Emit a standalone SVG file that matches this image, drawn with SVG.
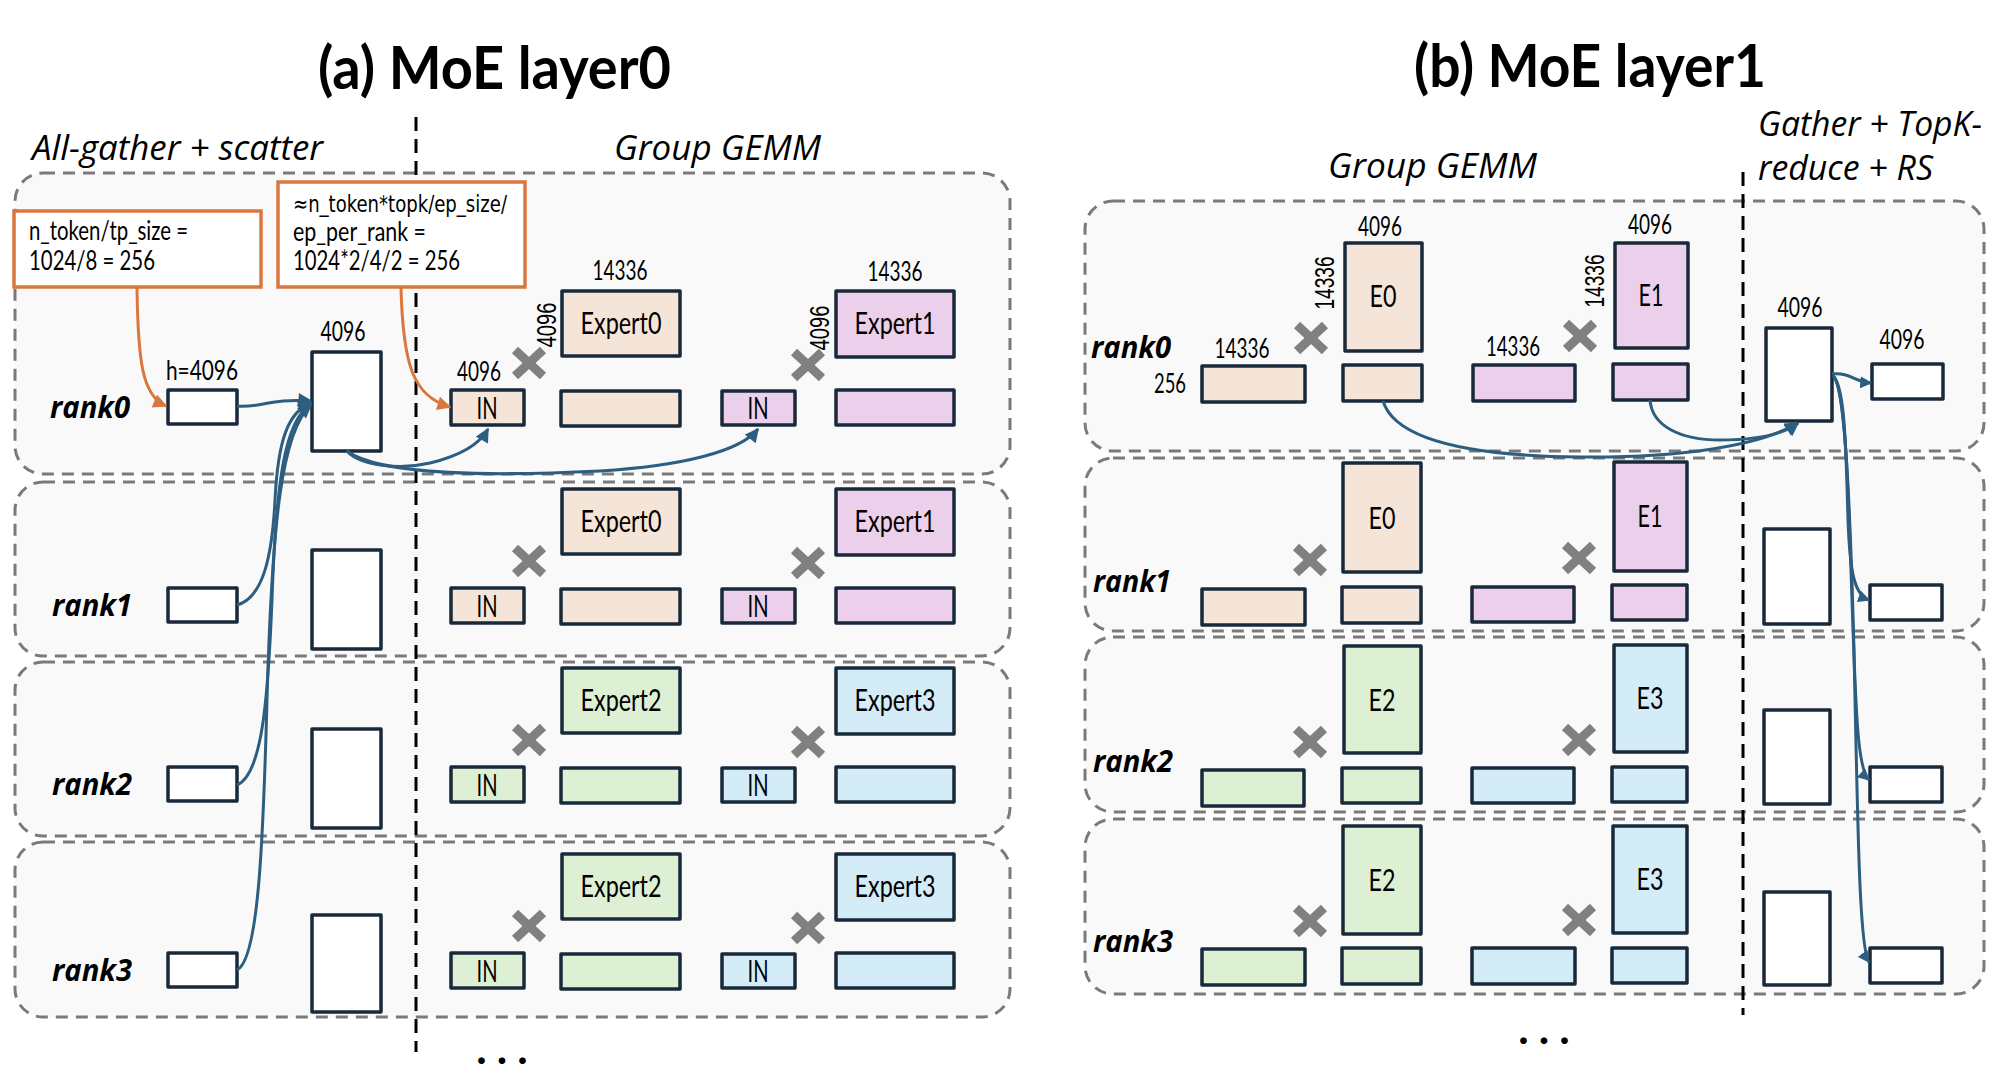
<svg xmlns="http://www.w3.org/2000/svg" width="1992" height="1092" viewBox="0 0 1992 1092">
<defs>
<style>
.panel{fill:#F9F9F9;stroke:#7A7A7A;stroke-width:3;stroke-dasharray:12 8}
.box{stroke:#18293A;stroke-width:3.5;stroke-linejoin:round}
.w{fill:#FFFFFF}.pe{fill:#F5E5D8}.pu{fill:#ECD0EB}.gr{fill:#DEF0D4}.bl{fill:#D3ECF8}
.xm{stroke:#808080;stroke-width:9}
.num{font-family:Lato,'Liberation Sans',sans-serif;font-size:26px;fill:#000}
.rot{font-family:'Liberation Sans',Arial,sans-serif;font-size:28px;fill:#000}
.lbl{font-family:Lato,'Liberation Sans',sans-serif;font-size:31px;fill:#000}
.note{font-family:Lato,'Liberation Sans',sans-serif;font-size:27px;fill:#000}
.note1{font-family:'DejaVu Sans Condensed','DejaVu Sans',sans-serif;font-size:23px;fill:#000}
.rank{font-family:'Open Sans','Liberation Sans',sans-serif;font-weight:700;font-style:italic;font-size:30px;fill:#000}
.sec{font-family:'Open Sans','Liberation Sans',sans-serif;font-style:italic;font-size:34px;fill:#000}
.title{font-family:Lato,'Liberation Sans',sans-serif;font-weight:700;font-size:60px;fill:#000}
.vdash{stroke:#000;stroke-width:3;stroke-dasharray:14 8;fill:none}
.conn{fill:none;stroke:#2D5E80;stroke-width:3}
.oconn{fill:none;stroke:#D9773F;stroke-width:3}
.obox{fill:#FFFFFF;stroke:#D9773F;stroke-width:3.5}
.dots{font-family:Lato,'Liberation Sans',sans-serif;font-weight:700;font-size:44px;letter-spacing:10px;fill:#000}
</style>
<marker id="ab" viewBox="0 0 10 10" refX="9" refY="5" markerWidth="15" markerHeight="14" markerUnits="userSpaceOnUse" orient="auto"><path d="M0,0 L10,5 L0,10 z" fill="#2D5E80"/></marker>
<marker id="abs" viewBox="0 0 10 10" refX="9" refY="5" markerWidth="12" markerHeight="12" markerUnits="userSpaceOnUse" orient="auto"><path d="M0,0 L10,5 L0,10 z" fill="#2D5E80"/></marker>
<marker id="ao" viewBox="0 0 10 10" refX="9" refY="5" markerWidth="15" markerHeight="14" markerUnits="userSpaceOnUse" orient="auto"><path d="M0,0 L10,5 L0,10 z" fill="#D9773F"/></marker>
<g id="xmark"><line class="xm" x1="-14" y1="-13" x2="14" y2="13"/><line class="xm" x1="14" y1="-13" x2="-14" y2="13"/></g>
</defs>

<g id="titles">
<text class="title" x="318" y="89" textLength="353" lengthAdjust="spacingAndGlyphs">(a) MoE layer0</text>
<text class="title" x="1414" y="87" textLength="352" lengthAdjust="spacingAndGlyphs">(b) MoE layer1</text>
<text class="sec" x="32" y="160" textLength="291" lengthAdjust="spacingAndGlyphs">All-gather + scatter</text>
<text class="sec" x="614" y="160" textLength="207" lengthAdjust="spacingAndGlyphs">Group GEMM</text>
<text class="sec" x="1328" y="178" textLength="209" lengthAdjust="spacingAndGlyphs">Group GEMM</text>
<text class="sec" x="1758" y="136" textLength="224" lengthAdjust="spacingAndGlyphs">Gather + TopK-</text>
<text class="sec" x="1758" y="180" textLength="175" lengthAdjust="spacingAndGlyphs">reduce + RS</text>
</g>

<g id="panels">
<rect class="panel" x="15" y="173" width="995" height="301" rx="28"/>
<rect class="panel" x="15" y="482" width="995" height="174" rx="28"/>
<rect class="panel" x="15" y="662" width="995" height="174" rx="28"/>
<rect class="panel" x="15" y="842" width="995" height="175" rx="28"/>
<rect class="panel" x="1085" y="201" width="899" height="250" rx="28"/>
<rect class="panel" x="1085" y="458" width="899" height="173" rx="28"/>
<rect class="panel" x="1085" y="637" width="899" height="175" rx="28"/>
<rect class="panel" x="1085" y="819" width="899" height="175" rx="28"/>
</g>

<g id="dividers">
<line class="vdash" x1="416" y1="117" x2="416" y2="1052"/>
<line class="vdash" x1="1743" y1="172" x2="1743" y2="1015"/>
</g>

<g id="note1"><rect class="obox" x="14" y="211" width="247" height="76"/>
<text class="note" x="29" y="240" textLength="159" lengthAdjust="spacingAndGlyphs">n_token/tp_size =</text>
<text class="note" x="29" y="270" textLength="126" lengthAdjust="spacingAndGlyphs">1024/8 = 256</text></g>
<g id="note2"><rect class="obox" x="278" y="182" width="247" height="105"/>
<text class="note1" x="293" y="212" textLength="214" lengthAdjust="spacingAndGlyphs">≈n_token*topk/ep_size/</text>
<text class="note" x="293" y="241" textLength="133" lengthAdjust="spacingAndGlyphs">ep_per_rank =</text>
<text class="note" x="293" y="270" textLength="167" lengthAdjust="spacingAndGlyphs">1024*2/4/2 = 256</text></g>

<g id="a-rank0">
<text class="rank" x="50" y="418" textLength="80" lengthAdjust="spacingAndGlyphs">rank0</text>
<g id="a0-in"><rect class="box w" x="168" y="390" width="69" height="34"/><text class="num" x="202" y="380" text-anchor="middle" textLength="72" lengthAdjust="spacingAndGlyphs">h=4096</text></g>
<g id="a0-gather"><rect class="box w" x="312" y="352" width="69" height="99"/><text class="num" x="343" y="341" text-anchor="middle" textLength="45" lengthAdjust="spacingAndGlyphs">4096</text></g>
<g id="a0-in1"><rect class="box pe" x="451" y="390" width="73" height="35"/><text class="lbl" x="487" y="419" text-anchor="middle" textLength="21" lengthAdjust="spacingAndGlyphs">IN</text><text class="num" x="479" y="381" text-anchor="middle" textLength="44" lengthAdjust="spacingAndGlyphs">4096</text></g>
<use href="#xmark" x="529" y="363"/>
<g id="a0-e0"><rect class="box pe" x="562" y="291" width="118" height="65"/><text class="lbl" x="621" y="334" text-anchor="middle" textLength="81" lengthAdjust="spacingAndGlyphs">Expert0</text><text class="num" x="620" y="280" text-anchor="middle" textLength="55" lengthAdjust="spacingAndGlyphs">14336</text><text class="rot" transform="translate(556,325) rotate(-90)" text-anchor="middle" textLength="45" lengthAdjust="spacingAndGlyphs">4096</text></g>
<g id="a0-o0"><rect class="box pe" x="561" y="391" width="119" height="35"/></g>
<g id="a0-in2"><rect class="box pu" x="722" y="391" width="73" height="34"/><text class="lbl" x="758" y="419" text-anchor="middle" textLength="21" lengthAdjust="spacingAndGlyphs">IN</text></g>
<use href="#xmark" x="808" y="365"/>
<g id="a0-e1"><rect class="box pu" x="836" y="291" width="118" height="66"/><text class="lbl" x="895" y="334" text-anchor="middle" textLength="81" lengthAdjust="spacingAndGlyphs">Expert1</text><text class="num" x="895" y="281" text-anchor="middle" textLength="55" lengthAdjust="spacingAndGlyphs">14336</text><text class="rot" transform="translate(829,328) rotate(-90)" text-anchor="middle" textLength="45" lengthAdjust="spacingAndGlyphs">4096</text></g>
<g id="a0-o1"><rect class="box pu" x="836" y="390" width="118" height="35"/></g>
</g>

<g id="a-rank1" transform="translate(0,198)">
<text class="rank" x="52" y="418" textLength="80" lengthAdjust="spacingAndGlyphs">rank1</text>
<g id="a1-in"><rect class="box w" x="168" y="390" width="69" height="34"/></g>
<g id="a1-gather"><rect class="box w" x="312" y="352" width="69" height="99"/></g>
<g id="a1-in1"><rect class="box pe" x="451" y="390" width="73" height="35"/><text class="lbl" x="487" y="419" text-anchor="middle" textLength="21" lengthAdjust="spacingAndGlyphs">IN</text></g>
<use href="#xmark" x="529" y="363"/>
<g id="a1-e0"><rect class="box pe" x="562" y="291" width="118" height="65"/><text class="lbl" x="621" y="334" text-anchor="middle" textLength="81" lengthAdjust="spacingAndGlyphs">Expert0</text></g>
<g id="a1-o0"><rect class="box pe" x="561" y="391" width="119" height="35"/></g>
<g id="a1-in2"><rect class="box pu" x="722" y="391" width="73" height="34"/><text class="lbl" x="758" y="419" text-anchor="middle" textLength="21" lengthAdjust="spacingAndGlyphs">IN</text></g>
<use href="#xmark" x="808" y="365"/>
<g id="a1-e1"><rect class="box pu" x="836" y="291" width="118" height="66"/><text class="lbl" x="895" y="334" text-anchor="middle" textLength="81" lengthAdjust="spacingAndGlyphs">Expert1</text></g>
<g id="a1-o1"><rect class="box pu" x="836" y="390" width="118" height="35"/></g>
</g>

<g id="a-rank2" transform="translate(0,377)">
<text class="rank" x="52" y="418" textLength="80" lengthAdjust="spacingAndGlyphs">rank2</text>
<g id="a2-in"><rect class="box w" x="168" y="390" width="69" height="34"/></g>
<g id="a2-gather"><rect class="box w" x="312" y="352" width="69" height="99"/></g>
<g id="a2-in1"><rect class="box gr" x="451" y="390" width="73" height="35"/><text class="lbl" x="487" y="419" text-anchor="middle" textLength="21" lengthAdjust="spacingAndGlyphs">IN</text></g>
<use href="#xmark" x="529" y="363"/>
<g id="a2-e2"><rect class="box gr" x="562" y="291" width="118" height="65"/><text class="lbl" x="621" y="334" text-anchor="middle" textLength="81" lengthAdjust="spacingAndGlyphs">Expert2</text></g>
<g id="a2-o2"><rect class="box gr" x="561" y="391" width="119" height="35"/></g>
<g id="a2-in2"><rect class="box bl" x="722" y="391" width="73" height="34"/><text class="lbl" x="758" y="419" text-anchor="middle" textLength="21" lengthAdjust="spacingAndGlyphs">IN</text></g>
<use href="#xmark" x="808" y="365"/>
<g id="a2-e3"><rect class="box bl" x="836" y="291" width="118" height="66"/><text class="lbl" x="895" y="334" text-anchor="middle" textLength="81" lengthAdjust="spacingAndGlyphs">Expert3</text></g>
<g id="a2-o3"><rect class="box bl" x="836" y="390" width="118" height="35"/></g>
</g>

<g id="a-rank3" transform="translate(0,563)">
<text class="rank" x="52" y="418" textLength="80" lengthAdjust="spacingAndGlyphs">rank3</text>
<g id="a3-in"><rect class="box w" x="168" y="390" width="69" height="34"/></g>
<g id="a3-gather"><rect class="box w" x="312" y="352" width="69" height="97"/></g>
<g id="a3-in1"><rect class="box gr" x="451" y="390" width="73" height="35"/><text class="lbl" x="487" y="419" text-anchor="middle" textLength="21" lengthAdjust="spacingAndGlyphs">IN</text></g>
<use href="#xmark" x="529" y="363"/>
<g id="a3-e2"><rect class="box gr" x="562" y="291" width="118" height="65"/><text class="lbl" x="621" y="334" text-anchor="middle" textLength="81" lengthAdjust="spacingAndGlyphs">Expert2</text></g>
<g id="a3-o2"><rect class="box gr" x="561" y="391" width="119" height="35"/></g>
<g id="a3-in2"><rect class="box bl" x="722" y="391" width="73" height="34"/><text class="lbl" x="758" y="419" text-anchor="middle" textLength="21" lengthAdjust="spacingAndGlyphs">IN</text></g>
<use href="#xmark" x="808" y="365"/>
<g id="a3-e3"><rect class="box bl" x="836" y="291" width="118" height="66"/><text class="lbl" x="895" y="334" text-anchor="middle" textLength="81" lengthAdjust="spacingAndGlyphs">Expert3</text></g>
<g id="a3-o3"><rect class="box bl" x="836" y="390" width="118" height="35"/></g>
</g>

<g id="b-rank0">
<text class="rank" x="1091" y="358" textLength="80" lengthAdjust="spacingAndGlyphs">rank0</text>
<g id="b0-w0"><rect class="box pe" x="1202" y="366" width="103" height="36"/><text class="num" x="1242" y="358" text-anchor="middle" textLength="55" lengthAdjust="spacingAndGlyphs">14336</text><text class="num" x="1170" y="393" text-anchor="middle" textLength="32" lengthAdjust="spacingAndGlyphs">256</text></g>
<use href="#xmark" x="1311" y="338"/>
<g id="b0-e0"><rect class="box pe" x="1345" y="243" width="77" height="108"/><text class="lbl" x="1383" y="307" text-anchor="middle" textLength="27" lengthAdjust="spacingAndGlyphs">E0</text><text class="num" x="1380" y="236" text-anchor="middle" textLength="44" lengthAdjust="spacingAndGlyphs">4096</text><text class="rot" transform="translate(1334,283) rotate(-90)" text-anchor="middle" textLength="53" lengthAdjust="spacingAndGlyphs">14336</text></g>
<g id="b0-o0"><rect class="box pe" x="1343" y="365" width="79" height="36"/></g>
<g id="b0-w1"><rect class="box pu" x="1473" y="365" width="102" height="36"/><text class="num" x="1513" y="356" text-anchor="middle" textLength="54" lengthAdjust="spacingAndGlyphs">14336</text></g>
<use href="#xmark" x="1580" y="336"/>
<g id="b0-e1"><rect class="box pu" x="1615" y="243" width="73" height="105"/><text class="lbl" x="1651" y="306" text-anchor="middle" textLength="25" lengthAdjust="spacingAndGlyphs">E1</text><text class="num" x="1650" y="234" text-anchor="middle" textLength="44" lengthAdjust="spacingAndGlyphs">4096</text><text class="rot" transform="translate(1604,281) rotate(-90)" text-anchor="middle" textLength="53" lengthAdjust="spacingAndGlyphs">14336</text></g>
<g id="b0-o1"><rect class="box pu" x="1613" y="364" width="75" height="36"/></g>
<g id="b0-gather"><rect class="box w" x="1766" y="328" width="66" height="93"/><text class="num" x="1800" y="317" text-anchor="middle" textLength="45" lengthAdjust="spacingAndGlyphs">4096</text></g>
<g id="b0-out"><rect class="box w" x="1872" y="364" width="71" height="35"/><text class="num" x="1902" y="349" text-anchor="middle" textLength="45" lengthAdjust="spacingAndGlyphs">4096</text></g>
</g>

<g id="b-rank1">
<text class="rank" x="1093" y="592" textLength="78" lengthAdjust="spacingAndGlyphs">rank1</text>
<g id="b1-w0"><rect class="box pe" x="1202" y="589" width="103" height="36"/></g>
<use href="#xmark" x="1310" y="560"/>
<g id="b1-e0"><rect class="box pe" x="1343" y="463" width="78" height="109"/><text class="lbl" x="1382" y="529" text-anchor="middle" textLength="27" lengthAdjust="spacingAndGlyphs">E0</text></g>
<g id="b1-o0"><rect class="box pe" x="1342" y="587" width="79" height="36"/></g>
<g id="b1-w1"><rect class="box pu" x="1472" y="587" width="102" height="35"/></g>
<use href="#xmark" x="1579" y="558"/>
<g id="b1-e1"><rect class="box pu" x="1614" y="462" width="73" height="109"/><text class="lbl" x="1650" y="527" text-anchor="middle" textLength="25" lengthAdjust="spacingAndGlyphs">E1</text></g>
<g id="b1-o1"><rect class="box pu" x="1612" y="585" width="75" height="35"/></g>
<g id="b1-gather"><rect class="box w" x="1764" y="529" width="66" height="95"/></g>
<g id="b1-out"><rect class="box w" x="1870" y="585" width="72" height="35"/></g>
</g>

<g id="b-rank2">
<text class="rank" x="1093" y="772" textLength="80" lengthAdjust="spacingAndGlyphs">rank2</text>
<g id="b2-w0"><rect class="box gr" x="1202" y="770" width="102" height="36"/></g>
<use href="#xmark" x="1310" y="742"/>
<g id="b2-e2"><rect class="box gr" x="1344" y="646" width="77" height="107"/><text class="lbl" x="1382" y="711" text-anchor="middle" textLength="27" lengthAdjust="spacingAndGlyphs">E2</text></g>
<g id="b2-o2"><rect class="box gr" x="1342" y="768" width="79" height="35"/></g>
<g id="b2-w1"><rect class="box bl" x="1472" y="768" width="102" height="35"/></g>
<use href="#xmark" x="1579" y="740"/>
<g id="b2-e3"><rect class="box bl" x="1614" y="645" width="73" height="107"/><text class="lbl" x="1650" y="709" text-anchor="middle" textLength="27" lengthAdjust="spacingAndGlyphs">E3</text></g>
<g id="b2-o3"><rect class="box bl" x="1612" y="767" width="75" height="35"/></g>
<g id="b2-gather"><rect class="box w" x="1764" y="710" width="66" height="94"/></g>
<g id="b2-out"><rect class="box w" x="1870" y="767" width="72" height="35"/></g>
</g>

<g id="b-rank3">
<text class="rank" x="1093" y="952" textLength="80" lengthAdjust="spacingAndGlyphs">rank3</text>
<g id="b3-w0"><rect class="box gr" x="1202" y="949" width="103" height="36"/></g>
<use href="#xmark" x="1310" y="921"/>
<g id="b3-e2"><rect class="box gr" x="1343" y="826" width="78" height="108"/><text class="lbl" x="1382" y="891" text-anchor="middle" textLength="27" lengthAdjust="spacingAndGlyphs">E2</text></g>
<g id="b3-o2"><rect class="box gr" x="1342" y="948" width="79" height="36"/></g>
<g id="b3-w1"><rect class="box bl" x="1472" y="948" width="103" height="36"/></g>
<use href="#xmark" x="1579" y="920"/>
<g id="b3-e3"><rect class="box bl" x="1613" y="826" width="74" height="107"/><text class="lbl" x="1650" y="890" text-anchor="middle" textLength="27" lengthAdjust="spacingAndGlyphs">E3</text></g>
<g id="b3-o3"><rect class="box bl" x="1612" y="948" width="75" height="35"/></g>
<g id="b3-gather"><rect class="box w" x="1764" y="892" width="66" height="93"/></g>
<g id="b3-out"><rect class="box w" x="1870" y="948" width="72" height="35"/></g>
</g>

<g id="connectors">
<path class="oconn" marker-end="url(#ao)" d="M137,288 C138,360 142,396 166,406"/>
<path class="oconn" marker-end="url(#ao)" d="M401,288 C403,365 413,396 450,407"/>
<path class="conn" marker-end="url(#ab)" d="M237,406 C262,408 270,398 311,401"/>
<path class="conn" marker-end="url(#ab)" d="M237,605 C262,598 272,560 275,500 C278,440 288,412 311,403"/>
<path class="conn" marker-end="url(#ab)" d="M237,785 C262,775 268,700 272,600 C276,480 285,420 311,404"/>
<path class="conn" marker-end="url(#ab)" d="M237,970 C258,960 263,850 267,700 C272,520 282,430 311,405"/>
<path class="conn" marker-end="url(#ab)" d="M347,451 C360,466 400,470 430,463 C455,457 478,447 488,429"/>
<path class="conn" marker-end="url(#ab)" d="M347,451 C380,476 500,476 600,471 C680,466 740,452 758,429"/>
<path class="conn" marker-end="url(#ab)" d="M1383,401 C1395,440 1470,456 1580,457 C1680,458 1760,446 1798,423"/>
<path class="conn" marker-end="url(#ab)" d="M1650,400 C1652,426 1680,440 1720,440 C1760,440 1785,433 1798,423"/>
<path class="conn" marker-end="url(#abs)" d="M1832,374 C1850,372 1855,382 1871,383"/>
<path class="conn" marker-end="url(#abs)" d="M1833,376 C1845,385 1846,450 1848,520 C1850,575 1855,595 1869,600"/>
<path class="conn" marker-end="url(#abs)" d="M1833,376 C1845,385 1848,480 1852,600 C1856,720 1858,770 1869,780"/>
<path class="conn" marker-end="url(#abs)" d="M1833,376 C1845,385 1850,500 1854,650 C1858,850 1860,950 1869,962"/>
</g>

<text class="dots" x="507" y="1064" text-anchor="middle">...</text>
<text class="dots" x="1549" y="1044" text-anchor="middle">...</text>
</svg>
